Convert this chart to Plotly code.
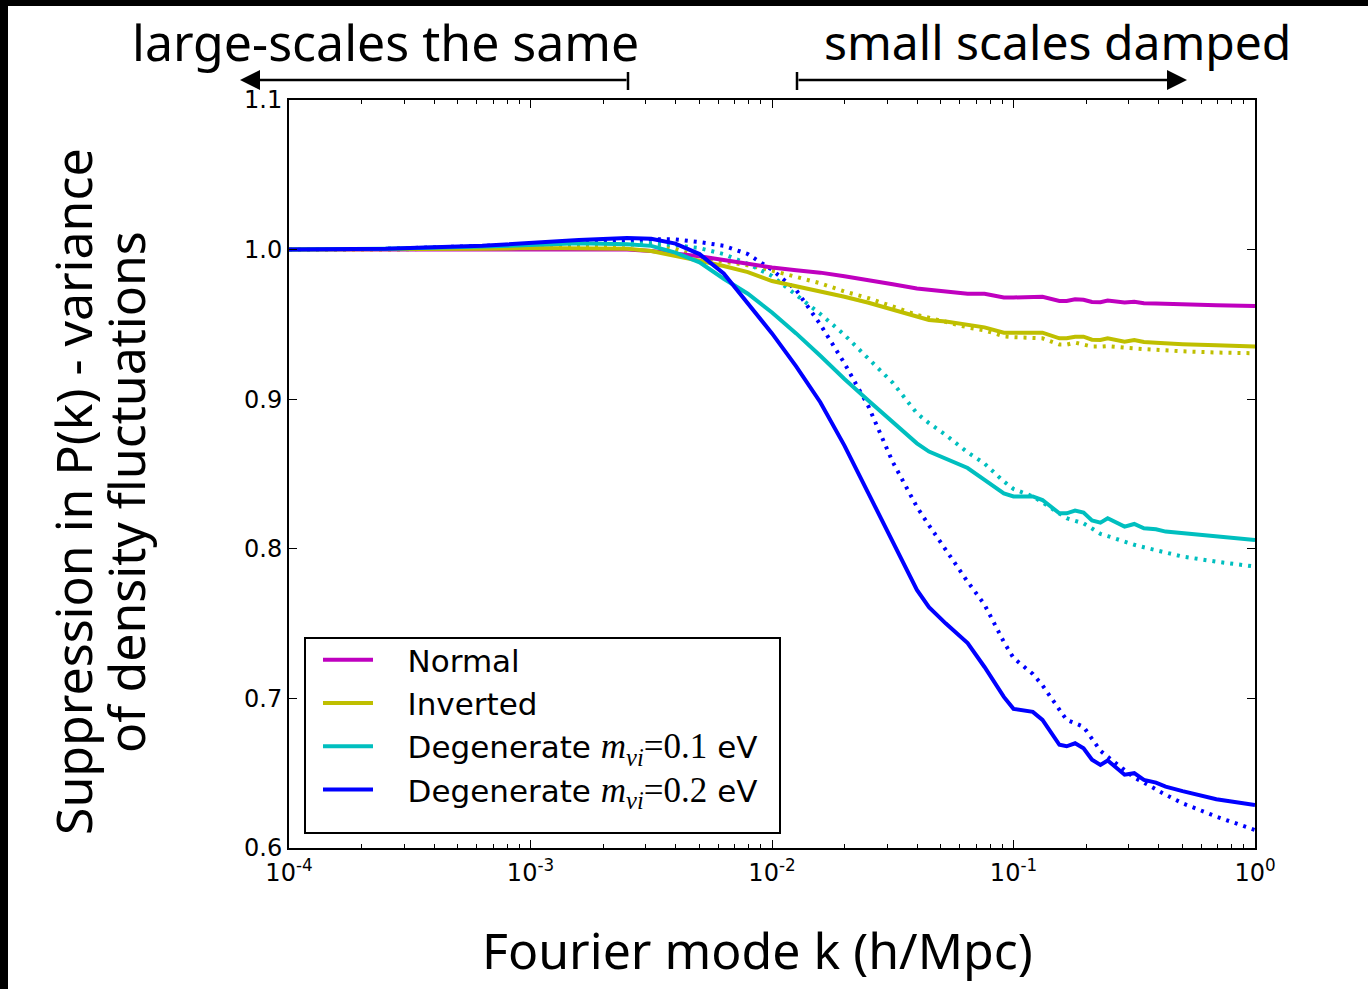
import plotly.graph_objects as go

# ---------------- data ----------------
log_k = [-4.0, -3.6, -3.2, -3.0, -2.8, -2.6, -2.5, -2.4, -2.3, -2.2, -2.1, -2.0,
         -1.9, -1.8, -1.7, -1.6, -1.5, -1.4, -1.35, -1.28, -1.19, -1.12, -1.04,
         -1.0, -0.92, -0.88, -0.81, -0.78, -0.745, -0.71, -0.675, -0.64, -0.61,
         -0.54, -0.50, -0.46, -0.41, -0.37, -0.30, -0.16, 0.0]

normal_solid = [1.000, 1.000, 1.000, 1.0003, 1.0003, 1.000, 0.999, 0.9975, 0.9955, 0.993,
                0.9905, 0.988, 0.9862, 0.9846, 0.9822, 0.9797, 0.9768, 0.974, 0.9732, 0.972,
                0.9705, 0.9705, 0.968, 0.968, 0.9682, 0.9685, 0.9657, 0.9657, 0.9668, 0.9665,
                0.965, 0.9648, 0.9659, 0.9646, 0.9652, 0.9642, 0.964, 0.9637, 0.9633, 0.9628,
                0.9623]

inverted_solid = [1.000, 1.000, 1.0005, 1.001, 1.001, 1.0005, 0.999, 0.996, 0.9925, 0.989,
                  0.985, 0.979, 0.9755, 0.9725, 0.9685, 0.9645, 0.960, 0.955, 0.953, 0.952,
                  0.9495, 0.948, 0.9445, 0.9445, 0.9447, 0.9445, 0.9407, 0.9407, 0.9418, 0.9418,
                  0.9398, 0.9396, 0.9407, 0.9385, 0.9396, 0.9382, 0.9378, 0.9372, 0.9368, 0.936,
                  0.9352]

inverted_dotted = [1.000, 1.000, 1.001, 1.002, 1.0028, 1.0032, 1.0032, 1.0005, 0.995, 0.992,
                   0.9895, 0.986, 0.9815, 0.9775, 0.972, 0.9675, 0.962, 0.9563, 0.9545, 0.9515,
                   0.948, 0.946, 0.942, 0.9415, 0.9412, 0.9407, 0.9365, 0.9365, 0.9378, 0.9365,
                   0.9352, 0.9352, 0.9355, 0.9345, 0.9343, 0.9335, 0.933, 0.9325, 0.932, 0.9312,
                   0.9307]

deg01_solid = [1.000, 1.0005, 1.002, 1.003, 1.0042, 1.0035, 1.0025, 0.998, 0.9915, 0.9805,
               0.9705, 0.958, 0.944, 0.929, 0.9135, 0.899, 0.8847, 0.8705, 0.865, 0.860,
               0.854, 0.846, 0.837, 0.835, 0.835, 0.8326, 0.8237, 0.8237, 0.8255, 0.8242,
               0.819, 0.8175, 0.8204, 0.8148, 0.8166, 0.8137, 0.8131, 0.8115, 0.8104, 0.8082,
               0.8059]

deg01_dotted = [1.000, 1.0005, 1.002, 1.003, 1.0042, 1.0045, 1.0043, 1.003, 1.001, 0.997,
                0.9905, 0.9824, 0.970, 0.957, 0.943, 0.927, 0.911, 0.8906, 0.884, 0.876,
                0.8645, 0.857, 0.845, 0.840, 0.835, 0.831, 0.8238, 0.8204, 0.8187, 0.817,
                0.8136, 0.810, 0.8085, 0.8045, 0.8027, 0.801, 0.799, 0.797, 0.7948, 0.7914,
                0.7881]

deg02_solid = [1.000, 1.0005, 1.0025, 1.0045, 1.0065, 1.0077, 1.0072, 1.004, 0.997, 0.984,
               0.964, 0.944, 0.922, 0.898, 0.869, 0.837, 0.804, 0.7725, 0.761, 0.750,
               0.737, 0.721, 0.701, 0.693, 0.691, 0.6856, 0.669, 0.668, 0.670, 0.6666,
               0.659, 0.6555, 0.6585, 0.649, 0.650, 0.6455, 0.6437, 0.641, 0.638, 0.6326,
               0.6287]

deg02_dotted = [1.000, 1.0005, 1.0025, 1.004, 1.0055, 1.0065, 1.007, 1.0068, 1.005, 1.0026,
                0.997, 0.9865, 0.973, 0.950, 0.924, 0.895, 0.858, 0.828, 0.8157, 0.7987,
                0.778, 0.7627, 0.7377, 0.727, 0.7163, 0.7087, 0.6924, 0.6856, 0.6834, 0.681,
                0.673, 0.665, 0.661, 0.6522, 0.647, 0.6437, 0.6388, 0.6356, 0.6299, 0.621,
                0.612]

MATH = '<span style="font-family:Liberation Serif;font-size:35px">'
PAD = "&nbsp;&nbsp;&nbsp;"
series_names = [PAD + "Normal", PAD + "Inverted",
                PAD + "Degenerate " + MATH + "<i>m</i><sub><i>νi</i></sub>=0.1</span> eV",
                PAD + "Degenerate " + MATH + "<i>m</i><sub><i>νi</i></sub>=0.2</span> eV"]

x_tick_vals = [1e-4, 1e-3, 1e-2, 1e-1, 1e0]
x_tick_text = ["10<sup>-4</sup>", "10<sup>-3</sup>", "10<sup>-2</sup>", "10<sup>-1</sup>", "10<sup>0</sup>"]
x_minor_vals = [m * 10.0 ** e for e in range(-4, 0) for m in range(2, 10)]
y_tick_vals = [0.6, 0.7, 0.8, 0.9, 1.0, 1.1]
y_tick_text = ["0.6", "0.7", "0.8", "0.9", "1.0", "1.1"]

# ---------------- layout geometry ----------------
W, H = 1368, 989
L, R, T, B = 289, 1255, 100, 848


def px(x):
    return (x - L) / (R - L)


def py(y):
    return (B - y) / (B - T)


k = [10.0 ** v for v in log_k]

MAG, YEL, CYA, BLU = "#bf00bf", "#bfbf00", "#00bfbf", "#0000ff"
LW = 4
DOT = "3px,6px"

fig = go.Figure()
fig.add_trace(go.Scatter(x=k, y=inverted_dotted, mode="lines", showlegend=False,
                         line=dict(color=YEL, width=LW, dash=DOT)))
fig.add_trace(go.Scatter(x=k, y=deg01_dotted, mode="lines", showlegend=False,
                         line=dict(color=CYA, width=LW, dash=DOT)))
fig.add_trace(go.Scatter(x=k, y=deg02_dotted, mode="lines", showlegend=False,
                         line=dict(color=BLU, width=LW, dash=DOT)))
fig.add_trace(go.Scatter(x=k, y=normal_solid, mode="lines", name=series_names[0],
                         line=dict(color=MAG, width=LW)))
fig.add_trace(go.Scatter(x=k, y=inverted_solid, mode="lines", name=series_names[1],
                         line=dict(color=YEL, width=LW)))
fig.add_trace(go.Scatter(x=k, y=deg01_solid, mode="lines", name=series_names[2],
                         line=dict(color=CYA, width=LW)))
fig.add_trace(go.Scatter(x=k, y=deg02_solid, mode="lines", name=series_names[3],
                         line=dict(color=BLU, width=LW)))

hand = dict(family="Noto Sans", size=50, color="black")

annotations = [
    dict(text="large-scales the same", x=px(385), y=py(42), font=hand),
    dict(text="small scales damped", x=px(1057), y=py(42), font=dict(hand, size=48)),
    dict(text="Fourier mode k (h/Mpc)", x=px(757), y=py(950), font=hand),
    dict(text="Suppression in P(k) - variance", x=px(73), y=py(492), textangle=-90, font=hand),
    dict(text="of density fluctuations", x=px(126), y=py(492), textangle=-90, font=hand),
]
for a in annotations:
    a.update(xref="paper", yref="paper", showarrow=False, xanchor="center", yanchor="middle")

annotations += [
    dict(x=px(240), y=py(80), ax=388, ay=0, xref="paper", yref="paper", text="",
         showarrow=True, arrowhead=2, arrowsize=1.6, arrowwidth=2.5, arrowcolor="black"),
    dict(x=px(1187), y=py(80), ax=-390, ay=0, xref="paper", yref="paper", text="",
         showarrow=True, arrowhead=2, arrowsize=1.6, arrowwidth=2.5, arrowcolor="black"),
]

shapes = [
    # legend frame
    dict(type="rect", xref="paper", yref="paper", x0=px(305), x1=px(780), y0=py(833), y1=py(638),
         fillcolor="white", line=dict(color="black", width=2), layer="below"),
    dict(type="line", xref="paper", yref="paper", x0=px(628), x1=px(628), y0=py(72), y1=py(90),
         line=dict(color="black", width=2.5)),
    dict(type="line", xref="paper", yref="paper", x0=px(797), x1=px(797), y0=py(72), y1=py(90),
         line=dict(color="black", width=2.5)),
    dict(type="rect", xref="paper", yref="paper", x0=px(0), x1=px(W), y0=py(6), y1=py(0),
         fillcolor="black", line=dict(width=0), layer="above"),
    dict(type="rect", xref="paper", yref="paper", x0=px(0), x1=px(8), y0=py(H), y1=py(0),
         fillcolor="black", line=dict(width=0), layer="above"),
]

fig.update_layout(
    width=W, height=H, autosize=False,
    margin=dict(l=L, r=W - R, t=T, b=H - B),
    paper_bgcolor="white", plot_bgcolor="white",
    font=dict(family="DejaVu Sans", size=24, color="black"),
    legend=dict(x=px(318), y=py(633), xanchor="left", yanchor="top",
                bgcolor="rgba(0,0,0,0)", borderwidth=0,
                font=dict(family="DejaVu Sans", size=31, color="black"),
                itemwidth=50),
    xaxis=dict(type="log", range=[-4, 0], tickmode="array", tickvals=x_tick_vals, ticktext=x_tick_text,
               ticks="inside", ticklen=8, tickwidth=1, tickcolor="black",
               showline=True, linecolor="black", linewidth=2, mirror="ticks",
               showgrid=False, zeroline=False, ticklabelstandoff=2,
               minor=dict(tickmode="array", tickvals=x_minor_vals, ticks="inside", ticklen=4,
                          tickwidth=1, tickcolor="black", showgrid=False)),
    yaxis=dict(range=[0.6, 1.1], tickmode="array", tickvals=y_tick_vals, ticktext=y_tick_text,
               ticks="inside", ticklen=8, tickwidth=1, tickcolor="black",
               showline=True, linecolor="black", linewidth=2, mirror="ticks",
               showgrid=False, zeroline=False),
    annotations=annotations,
    shapes=shapes,
)

fig.write_html("out.html")
